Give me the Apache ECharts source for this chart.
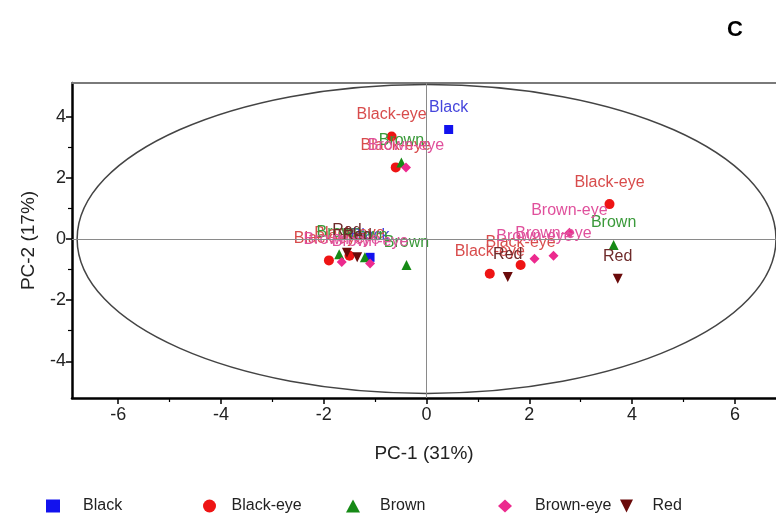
<!DOCTYPE html>
<html>
<head>
<meta charset="utf-8">
<script src="https://cdn.jsdelivr.net/npm/echarts@6/dist/echarts.min.js"></script>
<style>
  html, body { margin: 0; padding: 0; background: #fff; }
  #main { width: 776px; height: 514px; }
</style>
</head>
<body>
<div id="main"></div>
<script>
// group names and their PCA scores [PC-1, PC-2]
var groups = ['Black', 'Black-eye', 'Brown', 'Brown-eye', 'Red'];
var blackPts = [[0.43, 3.58], [-1.1, -0.6]];
var blackEyePts = [[-0.68, 3.35], [-0.6, 2.34], [3.56, 1.14], [1.23, -1.14], [1.83, -0.85], [-1.9, -0.7], [-1.5, -0.55]];
var brownPts = [[-0.49, 2.5], [-0.39, -0.85], [3.64, -0.2], [-1.7, -0.5], [-1.2, -0.6]];
var brownEyePts = [[-0.4, 2.34], [2.1, -0.65], [2.47, -0.55], [2.78, 0.2], [-1.65, -0.75], [-1.1, -0.8]];
var redPts = [[1.58, -1.24], [3.72, -1.3], [-1.55, -0.45], [-1.35, -0.6]];

var xMajorTicks = [-6, -4, -2, 0, 2, 4, 6];
var xMinorTicks = [-5, -3, -1, 1, 3, 5];
var yMajorTicks = [-4, -2, 0, 2, 4];
var yMinorTicks = [-3, -1, 1, 3];

// confidence ellipse: centre and half axes in data units
var ellipseCenter = [0, 0];
var ellipseRadii = [6.8, 5.05];

var font = 'Liberation Sans, Arial, sans-serif';
var pointData = [blackPts, blackEyePts, brownPts, brownEyePts, redPts];
var markerColors = ['#1212ee', '#ee1414', '#168a16', '#ec2a8e', '#6a0a0a'];
var labelColors = ['#4646dc', '#d84c4c', '#3a9a3a', '#e0509c', '#6e2a2a'];
var symbols = ['rect', 'circle', 'triangle', 'diamond', 'path://M0,0 L10,0 L5,10 Z'];
var sizes = [9, 10, 10, 10, 10];

var xMin = -6.9, xMax = 6.8, yMin = -5.2, yMax = 5.1;

var myChart = echarts.init(document.getElementById('main'));

var series = groups.map(function (name, i) {
    var s = {
        name: name,
        type: 'scatter',
        xAxisIndex: 0,
        yAxisIndex: 0,
        data: pointData[i],
        symbol: symbols[i],
        symbolSize: sizes[i],
        itemStyle: { color: markerColors[i], opacity: 1 },
        label: {
            show: true,
            position: 'top',
            distance: 9,
            formatter: name,
            color: labelColors[i],
            fontFamily: font,
            fontSize: 16
        },
        labelLayout: { hideOverlap: false }
    };
    if (i === 0) {
        s.markLine = {
            silent: true,
            symbol: 'none',
            label: { show: false },
            lineStyle: { color: '#8a8a8a', width: 1, type: 'solid' },
            data: [{ xAxis: 0 }, { yAxis: 0 }]
        };
    }
    return s;
});

// one legend per item so the spacing matches the reference
var legendLeft = [41, 198, 341, 493, 615];
var legendPad = [18, 10, 15, 18, 14];
var legends = groups.map(function (name, i) {
    return {
        data: [name],
        left: legendLeft[i],
        top: 493,
        itemWidth: 14,
        itemHeight: 13,
        textStyle: { fontFamily: font, fontSize: 16, color: '#222', padding: [0, 0, 0, legendPad[i]] }
    };
});

myChart.setOption({
    animation: false,
    title: {
        text: 'C',
        right: 28,
        top: 14,
        textStyle: { fontFamily: font, fontSize: 22, fontWeight: 'bold', color: '#000' }
    },
    legend: legends,
    grid: { left: 72, right: 0, top: 83, bottom: 116 },
    xAxis: [
        {
            type: 'value', min: xMin, max: xMax, position: 'bottom',
            name: 'PC-1 (31%)', nameLocation: 'middle', nameGap: 46,
            nameTextStyle: { fontFamily: font, fontSize: 19, color: '#222' },
            axisLine: { onZero: false, lineStyle: { color: '#000', width: 2.5 } },
            axisTick: { customValues: xMajorTicks, length: 6, lineStyle: { color: '#000', width: 1.5 } },
            axisLabel: { customValues: xMajorTicks, margin: 8, fontFamily: font, fontSize: 18, color: '#222' },
            splitLine: { show: false }
        },
        {
            type: 'value', min: xMin, max: xMax, position: 'bottom',
            axisLine: { show: false, onZero: false },
            axisTick: { customValues: xMinorTicks, length: 4, lineStyle: { color: '#000', width: 1.2 } },
            axisLabel: { show: false },
            splitLine: { show: false }
        },
        {
            type: 'value', min: xMin, max: xMax, position: 'top',
            axisLine: { onZero: false, lineStyle: { color: '#7a7a7a', width: 2 } },
            axisTick: { show: false },
            axisLabel: { show: false },
            splitLine: { show: false }
        }
    ],
    yAxis: [
        {
            type: 'value', min: yMin, max: yMax, position: 'left',
            name: 'PC-2 (17%)', nameLocation: 'middle', nameGap: 34,
            nameTextStyle: { fontFamily: font, fontSize: 19, color: '#222' },
            axisLine: { onZero: false, lineStyle: { color: '#000', width: 2.5 } },
            axisTick: { customValues: yMajorTicks, length: 6, lineStyle: { color: '#000', width: 1.5 } },
            axisLabel: { customValues: yMajorTicks, margin: 6, fontFamily: font, fontSize: 18, color: '#222' },
            splitLine: { show: false }
        },
        {
            type: 'value', min: yMin, max: yMax, position: 'left',
            axisLine: { show: false, onZero: false },
            axisTick: { customValues: yMinorTicks, length: 4, lineStyle: { color: '#000', width: 1.2 } },
            axisLabel: { show: false },
            splitLine: { show: false }
        }
    ],
    series: series
});

// ellipse placed through the chart's own scales
var c = myChart.convertToPixel({ xAxisIndex: 0, yAxisIndex: 0 }, ellipseCenter);
var edge = myChart.convertToPixel({ xAxisIndex: 0, yAxisIndex: 0 }, [ellipseCenter[0] + ellipseRadii[0], ellipseCenter[1] + ellipseRadii[1]]);
myChart.setOption({
    graphic: [{
        type: 'ellipse',
        z: 1,
        silent: true,
        shape: { cx: c[0], cy: c[1], rx: Math.abs(edge[0] - c[0]), ry: Math.abs(c[1] - edge[1]) },
        style: { fill: 'none', stroke: '#444', lineWidth: 1.5 }
    }]
});
</script>
</body>
</html>
